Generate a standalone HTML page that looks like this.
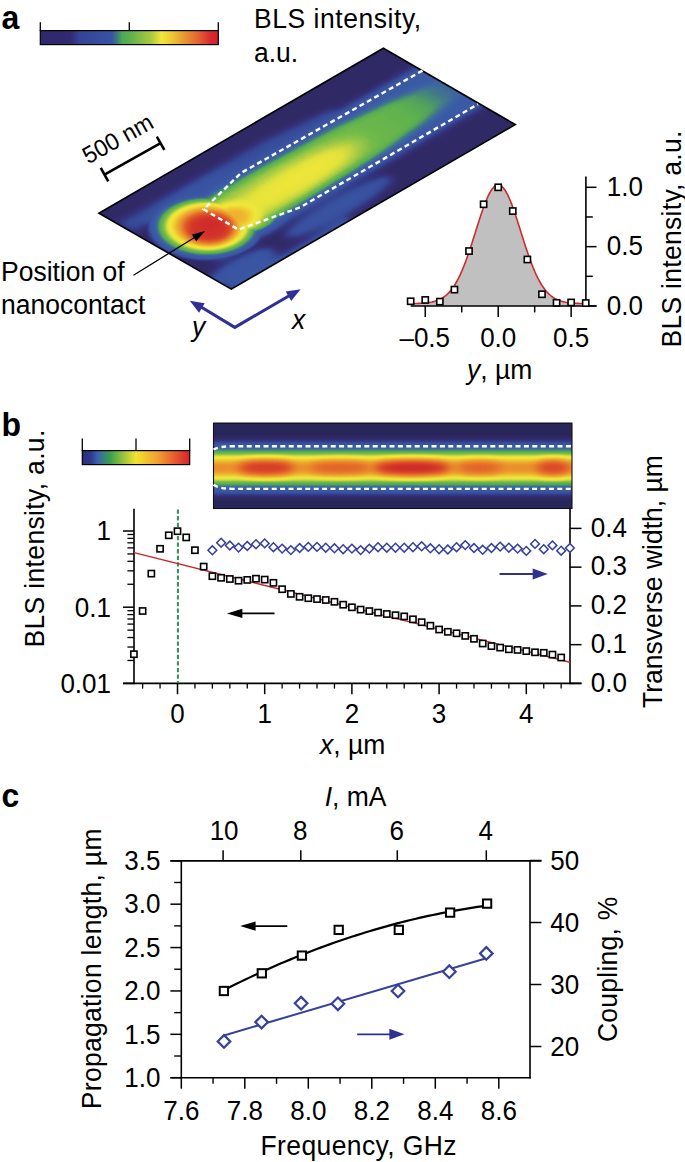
<!DOCTYPE html>
<html><head><meta charset="utf-8"><style>
html,body{margin:0;padding:0;background:#fff;overflow:hidden;}
svg{display:block;}
text{font-family:"Liberation Sans",sans-serif;fill:#000;}
</style></head><body>
<svg width="685" height="1162" viewBox="0 0 685 1162">
<defs>
<linearGradient id="cbar" x1="0" y1="0" x2="1" y2="0">
<stop offset="0" stop-color="rgb(48,40,108)"/><stop offset="0.17" stop-color="rgb(50,42,112)"/>
<stop offset="0.22" stop-color="rgb(52,68,150)"/><stop offset="0.40" stop-color="rgb(56,82,165)"/>
<stop offset="0.43" stop-color="rgb(60,120,130)"/><stop offset="0.46" stop-color="rgb(78,168,84)"/>
<stop offset="0.50" stop-color="rgb(90,175,80)"/><stop offset="0.62" stop-color="rgb(170,200,62)"/>
<stop offset="0.68" stop-color="rgb(240,230,60)"/><stop offset="0.74" stop-color="rgb(236,200,50)"/>
<stop offset="0.81" stop-color="rgb(232,150,50)"/><stop offset="0.90" stop-color="rgb(225,90,50)"/>
<stop offset="0.96" stop-color="rgb(215,40,45)"/><stop offset="1" stop-color="rgb(210,35,45)"/>
</linearGradient>
<linearGradient id="cbar2" x1="0" y1="0" x2="1" y2="0">
<stop offset="0" stop-color="#2b2c7c"/>
<stop offset="0.08" stop-color="#2d3a8a"/>
<stop offset="0.14" stop-color="#3a60b0"/>
<stop offset="0.26" stop-color="#3aa04c"/>
<stop offset="0.40" stop-color="#a8c83a"/>
<stop offset="0.50" stop-color="#f2e22e"/>
<stop offset="0.70" stop-color="#f3a030"/>
<stop offset="0.85" stop-color="#e8602e"/>
<stop offset="1" stop-color="#d8222a"/>
</linearGradient>
<filter id="bl4" x="-50%" y="-50%" width="200%" height="200%"><feGaussianBlur stdDeviation="4"/></filter>
<filter id="bl6" x="-50%" y="-50%" width="200%" height="200%"><feGaussianBlur stdDeviation="6"/></filter>
<filter id="bl8" x="-50%" y="-50%" width="200%" height="200%"><feGaussianBlur stdDeviation="8"/></filter>
<filter id="bl3" x="-50%" y="-50%" width="200%" height="200%"><feGaussianBlur stdDeviation="3"/></filter>
<filter id="bl2" x="-50%" y="-50%" width="200%" height="200%"><feGaussianBlur stdDeviation="2"/></filter>
<filter id="cmap" x="0" y="0" width="1" height="1" color-interpolation-filters="sRGB"><feComponentTransfer><feFuncR type="table" tableValues="0.1647 0.1745 0.1843 0.1941 0.2039 0.2039 0.2039 0.2039 0.2039 0.2078 0.2118 0.2176 0.2235 0.2272 0.2309 0.2346 0.2431 0.2618 0.3157 0.3608 0.4000 0.4549 0.5725 0.6886 0.7984 0.8915 0.9176 0.9438 0.9464 0.9431 0.9386 0.9320 0.9255 0.9190 0.9124 0.9000 0.8837 0.8659 0.8424 0.8196 0.8000"/><feFuncG type="table" tableValues="0.1529 0.1569 0.1608 0.1667 0.1725 0.1843 0.1961 0.2157 0.2353 0.2588 0.2824 0.3020 0.3216 0.3338 0.3461 0.3583 0.4157 0.4961 0.6235 0.6882 0.7111 0.7365 0.7718 0.8086 0.8518 0.8882 0.8980 0.9078 0.8732 0.8275 0.7752 0.7131 0.6510 0.5889 0.5268 0.4588 0.3869 0.3153 0.2447 0.1817 0.1490"/><feFuncB type="table" tableValues="0.3608 0.3784 0.3961 0.4137 0.4314 0.4549 0.4784 0.5059 0.5333 0.5608 0.5882 0.6078 0.6275 0.6373 0.6471 0.6569 0.6039 0.5206 0.3784 0.3137 0.3007 0.2878 0.2761 0.2635 0.2478 0.2346 0.2314 0.2281 0.2170 0.2039 0.1935 0.1869 0.1804 0.1771 0.1739 0.1706 0.1673 0.1647 0.1647 0.1660 0.1725"/></feComponentTransfer></filter>
<filter id="bl5" x="-50%" y="-50%" width="200%" height="200%" color-interpolation-filters="sRGB"><feGaussianBlur stdDeviation="5"/></filter>
<linearGradient id="chg" gradientUnits="userSpaceOnUse" x1="40" y1="0" x2="340" y2="0">
<stop offset="0" stop-color="#8a8a8a"/><stop offset="0.37" stop-color="#8a8a8a"/><stop offset="0.6" stop-color="#858585"/>
<stop offset="0.78" stop-color="#7d7d7d"/><stop offset="0.9" stop-color="#6e6e6e"/><stop offset="1" stop-color="#5e5e5e"/>
</linearGradient>
<linearGradient id="chy" gradientUnits="userSpaceOnUse" x1="40" y1="0" x2="250" y2="0">
<stop offset="0" stop-color="#a8a8a8"/><stop offset="0.25" stop-color="#a3a3a3"/><stop offset="0.5" stop-color="#ababab"/><stop offset="0.68" stop-color="#ababab"/><stop offset="0.82" stop-color="#9c9c9c"/>
<stop offset="1" stop-color="#808080"/>
</linearGradient>
<radialGradient id="blobg" gradientUnits="userSpaceOnUse" cx="48" cy="75" r="54" fx="52" fy="76">
<stop offset="0.000" stop-color="#fcfcfc"/><stop offset="0.185" stop-color="#f7f7f7"/><stop offset="0.352" stop-color="#e3e3e3"/><stop offset="0.481" stop-color="#c4c4c4"/><stop offset="0.574" stop-color="#a8a8a8"/><stop offset="0.630" stop-color="#919191"/><stop offset="0.704" stop-color="#787878"/><stop offset="0.759" stop-color="#666666"/><stop offset="0.833" stop-color="#575757"/><stop offset="0.926" stop-color="#0f0f0f"/><stop offset="1.000" stop-color="#0d0d0d"/>
</radialGradient>
<linearGradient id="bprof" gradientUnits="userSpaceOnUse" x1="0" y1="447.8" x2="0" y2="487.8">
<stop offset="0.000" stop-color="#5e5e5e"/><stop offset="0.050" stop-color="#6b6b6b"/><stop offset="0.125" stop-color="#7a7a7a"/><stop offset="0.175" stop-color="#8f8f8f"/><stop offset="0.250" stop-color="#a8a8a8"/><stop offset="0.300" stop-color="#bfbfbf"/><stop offset="0.400" stop-color="#d1d1d1"/><stop offset="0.500" stop-color="#d9d9d9"/><stop offset="0.600" stop-color="#d1d1d1"/><stop offset="0.700" stop-color="#bfbfbf"/><stop offset="0.750" stop-color="#a8a8a8"/><stop offset="0.825" stop-color="#8f8f8f"/><stop offset="0.875" stop-color="#7a7a7a"/><stop offset="0.950" stop-color="#6b6b6b"/><stop offset="1.000" stop-color="#5e5e5e"/>
</linearGradient>
<clipPath id="pclip"><rect x="0" y="0" width="330" height="152"/></clipPath>
<clipPath id="parclip"><polygon points="98.9,213.2 383.4,48.2 515.3,124.6 231.3,289.1"/></clipPath>
<clipPath id="bclip"><rect x="213.5" y="422.8" width="358.5" height="85.7"/></clipPath>
</defs>
<rect width="685" height="1162" fill="#fff"/>

<text transform="translate(1.50,28.60) scale(1,1.040)" font-size="32.0" text-anchor="start" font-weight="bold">a</text>
<rect x="40.3" y="30.6" width="178" height="14" fill="url(#cbar)" stroke="#000" stroke-width="1.2"/>
<line x1="40.30" y1="22.30" x2="40.30" y2="31.00" stroke="#000" stroke-width="1.30" />
<line x1="129.30" y1="22.30" x2="129.30" y2="31.00" stroke="#000" stroke-width="1.30" />
<line x1="218.30" y1="22.30" x2="218.30" y2="31.00" stroke="#000" stroke-width="1.30" />
<text transform="translate(254.00,28.40) scale(1,1.040)" font-size="26.5" text-anchor="start" letter-spacing="0.55">BLS intensity,</text>
<text transform="translate(254.00,61.90) scale(1,1.040)" font-size="26.5" text-anchor="start" >a.u.</text>
<g clip-path="url(#parclip)"><g filter="url(#cmap)">
<rect x="90" y="40" width="435" height="260" fill="#0d0d0d"/>
<g transform="matrix(0.86136,-0.49924,0.86941,0.50099,98.90,213.20)">
<g filter="url(#bl5)" style="mix-blend-mode:lighten">
<path d="M0 20 L170 22 L240 30 L240 38 L0 40 Z" fill="#454545"/>
<ellipse cx="75" cy="31" rx="45" ry="5" fill="#545454"/>
<ellipse cx="28" cy="136" rx="38" ry="13" fill="#545454"/>
<ellipse cx="145" cy="132" rx="62" ry="13" fill="#4f4f4f"/>
<path d="M0 147 L140 147 L140 160 L0 160 Z" fill="#595959"/>
</g>
<g filter="url(#bl5)" style="mix-blend-mode:lighten"><ellipse cx="84" cy="104" rx="18" ry="10" fill="#808080"/></g>
<g filter="url(#bl5)" style="mix-blend-mode:lighten"><path d="M20 34 L340 37 L340 115 L20 118 Z" fill="#5e5e5e"/></g>
<g filter="url(#bl4)" style="mix-blend-mode:lighten"><path d="M50 50 L130 49 L220 52 L290 58 L340 64 L340 90 L290 96 L220 102 L130 104 L50 105 Z" fill="url(#chg)"/></g>
<g filter="url(#bl8)" style="mix-blend-mode:lighten"><path d="M50 66 L140 65 L200 67 L240 78 L200 92 L140 95 L50 96 Z" fill="url(#chy)"/></g>
<g filter="url(#bl6)" style="mix-blend-mode:lighten"><ellipse cx="74" cy="82" rx="18" ry="17" fill="#c7c7c7"/></g>
<circle cx="48" cy="75" r="54" fill="url(#blobg)" style="mix-blend-mode:lighten"/>
</g>
<g filter="url(#bl5)" style="mix-blend-mode:lighten"><ellipse cx="209" cy="230" rx="22" ry="12" fill="#f7f7f7"/></g>
</g></g>
<path d="M98.9 213.2 L383.4 48.2 L515.3 124.6 L231.3 289.1 Z" fill="none" stroke="#000" stroke-width="1.6" stroke-linejoin="miter"/>
<path d="M422.5 70.6 L241 173 L203.6 209.3 L238.6 229.6 L300 207.4 L478 104.2" stroke="#fff" stroke-width="2.4" stroke-dasharray="5 3.4" fill="none"/>
<g transform="translate(104.5,174.7) rotate(-29.3)">
<line x1="0.00" y1="0.00" x2="64.30" y2="0.00" stroke="#000" stroke-width="2.60" />
<line x1="0.00" y1="-7.70" x2="0.00" y2="7.70" stroke="#000" stroke-width="2.60" />
<line x1="64.30" y1="-7.70" x2="64.30" y2="7.70" stroke="#000" stroke-width="2.60" />
</g>
<text transform="translate(88.30,164.60) rotate(-29.30) scale(1,1.040)" font-size="23.0" text-anchor="start" >500 nm</text>
<text transform="translate(1.00,281.00) scale(1,1.040)" font-size="26.5" text-anchor="start" >Position of</text>
<text transform="translate(1.00,313.50) scale(1,1.040)" font-size="26.5" text-anchor="start" >nanocontact</text>
<line x1="133.50" y1="275.20" x2="195.74" y2="236.78" stroke="#000" stroke-width="1.30" />
<path d="M205.10 231.00L196.14 241.23L191.94 234.43Z" fill="#000"/>
<path d="M197 304.5 L234.8 327.4 L293 293.5" fill="none" stroke="#2e3192" stroke-width="3" stroke-linejoin="miter"/>
<line x1="234.80" y1="327.40" x2="290.22" y2="295.22" stroke="#2e3192" stroke-width="0.01" />
<path d="M300.60 289.20L291.25 300.99L285.73 291.47Z" fill="#2e3192"/>
<line x1="234.80" y1="327.40" x2="200.13" y2="306.91" stroke="#2e3192" stroke-width="0.01" />
<path d="M189.80 300.80L204.65 303.19L199.05 312.66Z" fill="#2e3192"/>
<text transform="translate(292.00,329.00) scale(1,1.040)" font-size="26.5" text-anchor="start" font-style="italic">x</text>
<text transform="translate(192.00,336.00) scale(1,1.040)" font-size="26.5" text-anchor="start" font-style="italic">y</text>
<polygon points="410.66,306.00 410.66,303.56 411.39,303.55 412.12,303.54 412.85,303.53 413.58,303.52 414.31,303.50 415.04,303.49 415.77,303.47 416.50,303.45 417.23,303.43 417.95,303.41 418.68,303.38 419.41,303.35 420.14,303.32 420.87,303.28 421.60,303.24 422.33,303.20 423.06,303.15 423.79,303.10 424.52,303.04 425.25,302.97 425.98,302.90 426.71,302.82 427.44,302.74 428.17,302.64 428.90,302.54 429.63,302.43 430.36,302.31 431.09,302.17 431.82,302.03 432.54,301.87 433.27,301.70 434.00,301.51 434.73,301.31 435.46,301.10 436.19,300.86 436.92,300.61 437.65,300.33 438.38,300.04 439.11,299.72 439.84,299.38 440.57,299.01 441.30,298.62 442.03,298.20 442.76,297.75 443.49,297.27 444.22,296.75 444.95,296.21 445.68,295.63 446.41,295.01 447.13,294.35 447.86,293.66 448.59,292.92 449.32,292.14 450.05,291.32 450.78,290.45 451.51,289.54 452.24,288.57 452.97,287.56 453.70,286.50 454.43,285.39 455.16,284.22 455.89,283.00 456.62,281.73 457.35,280.41 458.08,279.03 458.81,277.59 459.54,276.10 460.27,274.56 461.00,272.95 461.73,271.30 462.45,269.59 463.18,267.83 463.91,266.02 464.64,264.15 465.37,262.24 466.10,260.28 466.83,258.27 467.56,256.22 468.29,254.13 469.02,251.99 469.75,249.83 470.48,247.63 471.21,245.40 471.94,243.15 472.67,240.87 473.40,238.58 474.13,236.27 474.86,233.95 475.59,231.63 476.31,229.31 477.04,226.99 477.77,224.69 478.50,222.39 479.23,220.12 479.96,217.88 480.69,215.66 481.42,213.49 482.15,211.35 482.88,209.26 483.61,207.23 484.34,205.25 485.07,203.34 485.80,201.50 486.53,199.73 487.26,198.04 487.99,196.43 488.72,194.92 489.45,193.49 490.18,192.17 490.90,190.94 491.63,189.82 492.36,188.81 493.09,187.91 493.82,187.13 494.55,186.46 495.28,185.91 496.01,185.48 496.74,185.17 497.47,184.99 498.20,184.93 498.93,184.99 499.66,185.17 500.39,185.48 501.12,185.91 501.85,186.46 502.58,187.13 503.31,187.91 504.04,188.81 504.77,189.82 505.50,190.94 506.22,192.17 506.95,193.49 507.68,194.92 508.41,196.43 509.14,198.04 509.87,199.73 510.60,201.50 511.33,203.34 512.06,205.25 512.79,207.23 513.52,209.26 514.25,211.35 514.98,213.49 515.71,215.66 516.44,217.88 517.17,220.12 517.90,222.39 518.63,224.69 519.36,226.99 520.09,229.31 520.81,231.63 521.54,233.95 522.27,236.27 523.00,238.58 523.73,240.87 524.46,243.15 525.19,245.40 525.92,247.63 526.65,249.83 527.38,251.99 528.11,254.13 528.84,256.22 529.57,258.27 530.30,260.28 531.03,262.24 531.76,264.15 532.49,266.02 533.22,267.83 533.95,269.59 534.67,271.30 535.40,272.95 536.13,274.56 536.86,276.10 537.59,277.59 538.32,279.03 539.05,280.41 539.78,281.73 540.51,283.00 541.24,284.22 541.97,285.39 542.70,286.50 543.43,287.56 544.16,288.57 544.89,289.54 545.62,290.45 546.35,291.32 547.08,292.14 547.81,292.92 548.54,293.66 549.26,294.35 549.99,295.01 550.72,295.63 551.45,296.21 552.18,296.75 552.91,297.27 553.64,297.75 554.37,298.20 555.10,298.62 555.83,299.01 556.56,299.38 557.29,299.72 558.02,300.04 558.75,300.33 559.48,300.61 560.21,300.86 560.94,301.10 561.67,301.31 562.40,301.51 563.13,301.70 563.86,301.87 564.58,302.03 565.31,302.17 566.04,302.31 566.77,302.43 567.50,302.54 568.23,302.64 568.96,302.74 569.69,302.82 570.42,302.90 571.15,302.97 571.88,303.04 572.61,303.10 573.34,303.15 574.07,303.20 574.80,303.24 575.53,303.28 576.26,303.32 576.99,303.35 577.72,303.38 578.45,303.41 579.17,303.43 579.90,303.45 580.63,303.47 581.36,303.49 582.09,303.50 582.82,303.52 583.55,303.53 584.28,303.54 585.01,303.55 585.74,303.56 585.74,306.00" fill="#c0c0c0"/>
<polyline points="410.66,303.56 411.39,303.55 412.12,303.54 412.85,303.53 413.58,303.52 414.31,303.50 415.04,303.49 415.77,303.47 416.50,303.45 417.23,303.43 417.95,303.41 418.68,303.38 419.41,303.35 420.14,303.32 420.87,303.28 421.60,303.24 422.33,303.20 423.06,303.15 423.79,303.10 424.52,303.04 425.25,302.97 425.98,302.90 426.71,302.82 427.44,302.74 428.17,302.64 428.90,302.54 429.63,302.43 430.36,302.31 431.09,302.17 431.82,302.03 432.54,301.87 433.27,301.70 434.00,301.51 434.73,301.31 435.46,301.10 436.19,300.86 436.92,300.61 437.65,300.33 438.38,300.04 439.11,299.72 439.84,299.38 440.57,299.01 441.30,298.62 442.03,298.20 442.76,297.75 443.49,297.27 444.22,296.75 444.95,296.21 445.68,295.63 446.41,295.01 447.13,294.35 447.86,293.66 448.59,292.92 449.32,292.14 450.05,291.32 450.78,290.45 451.51,289.54 452.24,288.57 452.97,287.56 453.70,286.50 454.43,285.39 455.16,284.22 455.89,283.00 456.62,281.73 457.35,280.41 458.08,279.03 458.81,277.59 459.54,276.10 460.27,274.56 461.00,272.95 461.73,271.30 462.45,269.59 463.18,267.83 463.91,266.02 464.64,264.15 465.37,262.24 466.10,260.28 466.83,258.27 467.56,256.22 468.29,254.13 469.02,251.99 469.75,249.83 470.48,247.63 471.21,245.40 471.94,243.15 472.67,240.87 473.40,238.58 474.13,236.27 474.86,233.95 475.59,231.63 476.31,229.31 477.04,226.99 477.77,224.69 478.50,222.39 479.23,220.12 479.96,217.88 480.69,215.66 481.42,213.49 482.15,211.35 482.88,209.26 483.61,207.23 484.34,205.25 485.07,203.34 485.80,201.50 486.53,199.73 487.26,198.04 487.99,196.43 488.72,194.92 489.45,193.49 490.18,192.17 490.90,190.94 491.63,189.82 492.36,188.81 493.09,187.91 493.82,187.13 494.55,186.46 495.28,185.91 496.01,185.48 496.74,185.17 497.47,184.99 498.20,184.93 498.93,184.99 499.66,185.17 500.39,185.48 501.12,185.91 501.85,186.46 502.58,187.13 503.31,187.91 504.04,188.81 504.77,189.82 505.50,190.94 506.22,192.17 506.95,193.49 507.68,194.92 508.41,196.43 509.14,198.04 509.87,199.73 510.60,201.50 511.33,203.34 512.06,205.25 512.79,207.23 513.52,209.26 514.25,211.35 514.98,213.49 515.71,215.66 516.44,217.88 517.17,220.12 517.90,222.39 518.63,224.69 519.36,226.99 520.09,229.31 520.81,231.63 521.54,233.95 522.27,236.27 523.00,238.58 523.73,240.87 524.46,243.15 525.19,245.40 525.92,247.63 526.65,249.83 527.38,251.99 528.11,254.13 528.84,256.22 529.57,258.27 530.30,260.28 531.03,262.24 531.76,264.15 532.49,266.02 533.22,267.83 533.95,269.59 534.67,271.30 535.40,272.95 536.13,274.56 536.86,276.10 537.59,277.59 538.32,279.03 539.05,280.41 539.78,281.73 540.51,283.00 541.24,284.22 541.97,285.39 542.70,286.50 543.43,287.56 544.16,288.57 544.89,289.54 545.62,290.45 546.35,291.32 547.08,292.14 547.81,292.92 548.54,293.66 549.26,294.35 549.99,295.01 550.72,295.63 551.45,296.21 552.18,296.75 552.91,297.27 553.64,297.75 554.37,298.20 555.10,298.62 555.83,299.01 556.56,299.38 557.29,299.72 558.02,300.04 558.75,300.33 559.48,300.61 560.21,300.86 560.94,301.10 561.67,301.31 562.40,301.51 563.13,301.70 563.86,301.87 564.58,302.03 565.31,302.17 566.04,302.31 566.77,302.43 567.50,302.54 568.23,302.64 568.96,302.74 569.69,302.82 570.42,302.90 571.15,302.97 571.88,303.04 572.61,303.10 573.34,303.15 574.07,303.20 574.80,303.24 575.53,303.28 576.26,303.32 576.99,303.35 577.72,303.38 578.45,303.41 579.17,303.43 579.90,303.45 580.63,303.47 581.36,303.49 582.09,303.50 582.82,303.52 583.55,303.53 584.28,303.54 585.01,303.55 585.74,303.56" fill="none" stroke="#d02a2a" stroke-width="1.6"/>
<line x1="410.70" y1="306.00" x2="596.50" y2="306.00" stroke="#000" stroke-width="1.60" />
<line x1="585.90" y1="176.40" x2="585.90" y2="306.80" stroke="#000" stroke-width="1.60" />
<line x1="585.90" y1="306.00" x2="596.50" y2="306.00" stroke="#000" stroke-width="1.50" />
<line x1="585.90" y1="246.65" x2="596.50" y2="246.65" stroke="#000" stroke-width="1.50" />
<line x1="585.90" y1="187.30" x2="596.50" y2="187.30" stroke="#000" stroke-width="1.50" />
<line x1="585.90" y1="276.32" x2="592.80" y2="276.32" stroke="#000" stroke-width="1.50" />
<line x1="585.90" y1="216.97" x2="592.80" y2="216.97" stroke="#000" stroke-width="1.50" />
<line x1="425.25" y1="306.00" x2="425.25" y2="317.00" stroke="#000" stroke-width="1.50" />
<line x1="498.20" y1="306.00" x2="498.20" y2="317.00" stroke="#000" stroke-width="1.50" />
<line x1="571.15" y1="306.00" x2="571.15" y2="317.00" stroke="#000" stroke-width="1.50" />
<line x1="461.72" y1="306.00" x2="461.72" y2="312.40" stroke="#000" stroke-width="1.50" />
<line x1="534.67" y1="306.00" x2="534.67" y2="312.40" stroke="#000" stroke-width="1.50" />
<rect x="407.56" y="298.15" width="6.20" height="6.20" fill="#fff" stroke="#000" stroke-width="1.60"/>
<rect x="422.15" y="296.85" width="6.20" height="6.20" fill="#fff" stroke="#000" stroke-width="1.60"/>
<rect x="436.74" y="298.51" width="6.20" height="6.20" fill="#fff" stroke="#000" stroke-width="1.60"/>
<rect x="451.33" y="286.52" width="6.20" height="6.20" fill="#fff" stroke="#000" stroke-width="1.60"/>
<rect x="465.92" y="247.94" width="6.20" height="6.20" fill="#fff" stroke="#000" stroke-width="1.60"/>
<rect x="480.51" y="201.17" width="6.20" height="6.20" fill="#fff" stroke="#000" stroke-width="1.60"/>
<rect x="495.10" y="184.20" width="6.20" height="6.20" fill="#fff" stroke="#000" stroke-width="1.60"/>
<rect x="509.69" y="207.94" width="6.20" height="6.20" fill="#fff" stroke="#000" stroke-width="1.60"/>
<rect x="524.28" y="256.37" width="6.20" height="6.20" fill="#fff" stroke="#000" stroke-width="1.60"/>
<rect x="538.87" y="291.15" width="6.20" height="6.20" fill="#fff" stroke="#000" stroke-width="1.60"/>
<rect x="553.46" y="299.70" width="6.20" height="6.20" fill="#fff" stroke="#000" stroke-width="1.60"/>
<rect x="568.05" y="299.34" width="6.20" height="6.20" fill="#fff" stroke="#000" stroke-width="1.60"/>
<rect x="582.64" y="299.93" width="6.20" height="6.20" fill="#fff" stroke="#000" stroke-width="1.60"/>
<text transform="translate(606.80,195.90) scale(1,1.040)" font-size="26.0" text-anchor="start" >1.0</text>
<text transform="translate(606.80,255.25) scale(1,1.040)" font-size="26.0" text-anchor="start" >0.5</text>
<text transform="translate(606.80,314.60) scale(1,1.040)" font-size="26.0" text-anchor="start" >0.0</text>
<text transform="translate(424.75,347.20) scale(1,1.040)" font-size="26.0" text-anchor="middle" >&#8211;0.5</text>
<text transform="translate(498.20,347.20) scale(1,1.040)" font-size="26.0" text-anchor="middle" >0.0</text>
<text transform="translate(571.15,347.20) scale(1,1.040)" font-size="26.0" text-anchor="middle" >0.5</text>
<text transform="translate(467.00,378.50) scale(1,1.040)" font-size="26.5" text-anchor="start" ><tspan font-style="italic">y</tspan>, &#181;m</text>
<text transform="translate(680.50,347.50) rotate(-90.00) scale(1,1.040)" font-size="26.5" text-anchor="start" letter-spacing="0.3">BLS intensity, a.u.</text>
<text transform="translate(1.50,436.00) scale(1,1.040)" font-size="32.0" text-anchor="start" font-weight="bold">b</text>
<rect x="82.3" y="450.6" width="107.4" height="14" fill="url(#cbar2)" stroke="#000" stroke-width="1.2"/>
<line x1="82.30" y1="438.60" x2="82.30" y2="451.00" stroke="#000" stroke-width="1.30" />
<line x1="136.00" y1="438.60" x2="136.00" y2="451.00" stroke="#000" stroke-width="1.30" />
<line x1="189.70" y1="438.60" x2="189.70" y2="451.00" stroke="#000" stroke-width="1.30" />
<g clip-path="url(#bclip)"><g filter="url(#cmap)">
<rect x="200" y="410" width="390" height="110" fill="#000000"/>
<g filter="url(#bl3)" style="mix-blend-mode:lighten"><rect x="200" y="441" width="390" height="54" fill="#5e5e5e"/></g>
<g filter="url(#bl2)" style="mix-blend-mode:lighten"><rect x="200" y="447.8" width="390" height="40" rx="9" fill="url(#bprof)"/></g>
<g filter="url(#bl5)" style="mix-blend-mode:lighten">
<ellipse cx="266" cy="467.8" rx="28" ry="7" fill="#f7f7f7"/>
<ellipse cx="340" cy="467.8" rx="30" ry="6" fill="#e8e8e8"/>
<ellipse cx="412" cy="467.8" rx="38" ry="7" fill="#ffffff"/>
<ellipse cx="480" cy="467.8" rx="22" ry="6" fill="#e8e8e8"/>
<ellipse cx="553" cy="467.8" rx="17" ry="7" fill="#f2f2f2"/>
</g>
</g></g>
<rect x="213.5" y="423.2" width="358.5" height="85.3" fill="none" stroke="#111" stroke-width="1.1"/>
<path d="M213.5 449.5 Q220 446.2 233 446.2 L572 446.2" stroke="#fff" stroke-width="2.4" stroke-dasharray="5 3.4" fill="none"/>
<path d="M213.5 484.8 Q220 488.9 233 488.9 L572 488.9" stroke="#fff" stroke-width="2.4" stroke-dasharray="5 3.4" fill="none"/>
<line x1="134.00" y1="508.80" x2="134.00" y2="684.20" stroke="#000" stroke-width="1.60" />
<line x1="570.00" y1="508.80" x2="570.00" y2="684.20" stroke="#000" stroke-width="1.60" />
<line x1="123.00" y1="683.40" x2="581.50" y2="683.40" stroke="#000" stroke-width="1.60" />
<line x1="123.00" y1="683.40" x2="134.00" y2="683.40" stroke="#000" stroke-width="1.50" />
<line x1="127.40" y1="660.46" x2="134.00" y2="660.46" stroke="#000" stroke-width="1.30" />
<line x1="127.40" y1="647.04" x2="134.00" y2="647.04" stroke="#000" stroke-width="1.30" />
<line x1="127.40" y1="637.52" x2="134.00" y2="637.52" stroke="#000" stroke-width="1.30" />
<line x1="127.40" y1="630.14" x2="134.00" y2="630.14" stroke="#000" stroke-width="1.30" />
<line x1="127.40" y1="624.10" x2="134.00" y2="624.10" stroke="#000" stroke-width="1.30" />
<line x1="127.40" y1="619.00" x2="134.00" y2="619.00" stroke="#000" stroke-width="1.30" />
<line x1="127.40" y1="614.58" x2="134.00" y2="614.58" stroke="#000" stroke-width="1.30" />
<line x1="127.40" y1="610.69" x2="134.00" y2="610.69" stroke="#000" stroke-width="1.30" />
<line x1="123.00" y1="607.20" x2="134.00" y2="607.20" stroke="#000" stroke-width="1.50" />
<line x1="127.40" y1="584.26" x2="134.00" y2="584.26" stroke="#000" stroke-width="1.30" />
<line x1="127.40" y1="570.84" x2="134.00" y2="570.84" stroke="#000" stroke-width="1.30" />
<line x1="127.40" y1="561.32" x2="134.00" y2="561.32" stroke="#000" stroke-width="1.30" />
<line x1="127.40" y1="553.94" x2="134.00" y2="553.94" stroke="#000" stroke-width="1.30" />
<line x1="127.40" y1="547.90" x2="134.00" y2="547.90" stroke="#000" stroke-width="1.30" />
<line x1="127.40" y1="542.80" x2="134.00" y2="542.80" stroke="#000" stroke-width="1.30" />
<line x1="127.40" y1="538.38" x2="134.00" y2="538.38" stroke="#000" stroke-width="1.30" />
<line x1="127.40" y1="534.49" x2="134.00" y2="534.49" stroke="#000" stroke-width="1.30" />
<line x1="123.00" y1="531.00" x2="134.00" y2="531.00" stroke="#000" stroke-width="1.50" />
<line x1="570.00" y1="683.40" x2="581.50" y2="683.40" stroke="#000" stroke-width="1.50" />
<line x1="570.00" y1="644.65" x2="581.50" y2="644.65" stroke="#000" stroke-width="1.50" />
<line x1="570.00" y1="605.90" x2="581.50" y2="605.90" stroke="#000" stroke-width="1.50" />
<line x1="570.00" y1="567.15" x2="581.50" y2="567.15" stroke="#000" stroke-width="1.50" />
<line x1="570.00" y1="528.40" x2="581.50" y2="528.40" stroke="#000" stroke-width="1.50" />
<line x1="142.62" y1="683.40" x2="142.62" y2="688.60" stroke="#000" stroke-width="1.30" />
<line x1="160.06" y1="683.40" x2="160.06" y2="688.60" stroke="#000" stroke-width="1.30" />
<line x1="177.50" y1="683.40" x2="177.50" y2="694.20" stroke="#000" stroke-width="1.50" />
<line x1="194.94" y1="683.40" x2="194.94" y2="688.60" stroke="#000" stroke-width="1.30" />
<line x1="212.38" y1="683.40" x2="212.38" y2="688.60" stroke="#000" stroke-width="1.30" />
<line x1="229.82" y1="683.40" x2="229.82" y2="688.60" stroke="#000" stroke-width="1.30" />
<line x1="247.26" y1="683.40" x2="247.26" y2="688.60" stroke="#000" stroke-width="1.30" />
<line x1="264.70" y1="683.40" x2="264.70" y2="694.20" stroke="#000" stroke-width="1.50" />
<line x1="282.14" y1="683.40" x2="282.14" y2="688.60" stroke="#000" stroke-width="1.30" />
<line x1="299.58" y1="683.40" x2="299.58" y2="688.60" stroke="#000" stroke-width="1.30" />
<line x1="317.02" y1="683.40" x2="317.02" y2="688.60" stroke="#000" stroke-width="1.30" />
<line x1="334.46" y1="683.40" x2="334.46" y2="688.60" stroke="#000" stroke-width="1.30" />
<line x1="351.90" y1="683.40" x2="351.90" y2="694.20" stroke="#000" stroke-width="1.50" />
<line x1="369.34" y1="683.40" x2="369.34" y2="688.60" stroke="#000" stroke-width="1.30" />
<line x1="386.78" y1="683.40" x2="386.78" y2="688.60" stroke="#000" stroke-width="1.30" />
<line x1="404.22" y1="683.40" x2="404.22" y2="688.60" stroke="#000" stroke-width="1.30" />
<line x1="421.66" y1="683.40" x2="421.66" y2="688.60" stroke="#000" stroke-width="1.30" />
<line x1="439.10" y1="683.40" x2="439.10" y2="694.20" stroke="#000" stroke-width="1.50" />
<line x1="456.54" y1="683.40" x2="456.54" y2="688.60" stroke="#000" stroke-width="1.30" />
<line x1="473.98" y1="683.40" x2="473.98" y2="688.60" stroke="#000" stroke-width="1.30" />
<line x1="491.42" y1="683.40" x2="491.42" y2="688.60" stroke="#000" stroke-width="1.30" />
<line x1="508.86" y1="683.40" x2="508.86" y2="688.60" stroke="#000" stroke-width="1.30" />
<line x1="526.30" y1="683.40" x2="526.30" y2="694.20" stroke="#000" stroke-width="1.50" />
<line x1="543.74" y1="683.40" x2="543.74" y2="688.60" stroke="#000" stroke-width="1.30" />
<line x1="561.18" y1="683.40" x2="561.18" y2="688.60" stroke="#000" stroke-width="1.30" />
<line x1="177.90" y1="509.50" x2="177.90" y2="682.50" stroke="#2f8f5a" stroke-width="2.00" stroke-dasharray="4.3 2.3"/>
<line x1="134.00" y1="552.60" x2="570.00" y2="662.20" stroke="#c8262c" stroke-width="1.40" />
<path d="M212.38 545.90L216.78 550.30L212.38 554.70L207.98 550.30Z" fill="#fff" stroke="#35419a" stroke-width="1.50"/>
<path d="M221.10 538.30L225.50 542.70L221.10 547.10L216.70 542.70Z" fill="#fff" stroke="#35419a" stroke-width="1.50"/>
<path d="M229.82 541.10L234.22 545.50L229.82 549.90L225.42 545.50Z" fill="#fff" stroke="#35419a" stroke-width="1.50"/>
<path d="M238.54 543.20L242.94 547.60L238.54 552.00L234.14 547.60Z" fill="#fff" stroke="#35419a" stroke-width="1.50"/>
<path d="M247.26 541.60L251.66 546.00L247.26 550.40L242.86 546.00Z" fill="#fff" stroke="#35419a" stroke-width="1.50"/>
<path d="M255.98 539.80L260.38 544.20L255.98 548.60L251.58 544.20Z" fill="#fff" stroke="#35419a" stroke-width="1.50"/>
<path d="M264.70 539.00L269.10 543.40L264.70 547.80L260.30 543.40Z" fill="#fff" stroke="#35419a" stroke-width="1.50"/>
<path d="M273.42 542.80L277.82 547.20L273.42 551.60L269.02 547.20Z" fill="#fff" stroke="#35419a" stroke-width="1.50"/>
<path d="M282.14 544.20L286.54 548.60L282.14 553.00L277.74 548.60Z" fill="#fff" stroke="#35419a" stroke-width="1.50"/>
<path d="M290.86 545.70L295.26 550.10L290.86 554.50L286.46 550.10Z" fill="#fff" stroke="#35419a" stroke-width="1.50"/>
<path d="M299.58 543.60L303.98 548.00L299.58 552.40L295.18 548.00Z" fill="#fff" stroke="#35419a" stroke-width="1.50"/>
<path d="M308.30 542.50L312.70 546.90L308.30 551.30L303.90 546.90Z" fill="#fff" stroke="#35419a" stroke-width="1.50"/>
<path d="M317.02 542.50L321.42 546.90L317.02 551.30L312.62 546.90Z" fill="#fff" stroke="#35419a" stroke-width="1.50"/>
<path d="M325.74 543.30L330.14 547.70L325.74 552.10L321.34 547.70Z" fill="#fff" stroke="#35419a" stroke-width="1.50"/>
<path d="M334.46 543.90L338.86 548.30L334.46 552.70L330.06 548.30Z" fill="#fff" stroke="#35419a" stroke-width="1.50"/>
<path d="M343.18 544.80L347.58 549.20L343.18 553.60L338.78 549.20Z" fill="#fff" stroke="#35419a" stroke-width="1.50"/>
<path d="M351.90 544.20L356.30 548.60L351.90 553.00L347.50 548.60Z" fill="#fff" stroke="#35419a" stroke-width="1.50"/>
<path d="M360.62 545.70L365.02 550.10L360.62 554.50L356.22 550.10Z" fill="#fff" stroke="#35419a" stroke-width="1.50"/>
<path d="M369.34 544.20L373.74 548.60L369.34 553.00L364.94 548.60Z" fill="#fff" stroke="#35419a" stroke-width="1.50"/>
<path d="M378.06 542.80L382.46 547.20L378.06 551.60L373.66 547.20Z" fill="#fff" stroke="#35419a" stroke-width="1.50"/>
<path d="M386.78 543.30L391.18 547.70L386.78 552.10L382.38 547.70Z" fill="#fff" stroke="#35419a" stroke-width="1.50"/>
<path d="M395.50 543.30L399.90 547.70L395.50 552.10L391.10 547.70Z" fill="#fff" stroke="#35419a" stroke-width="1.50"/>
<path d="M404.22 543.30L408.62 547.70L404.22 552.10L399.82 547.70Z" fill="#fff" stroke="#35419a" stroke-width="1.50"/>
<path d="M412.94 542.80L417.34 547.20L412.94 551.60L408.54 547.20Z" fill="#fff" stroke="#35419a" stroke-width="1.50"/>
<path d="M421.66 541.90L426.06 546.30L421.66 550.70L417.26 546.30Z" fill="#fff" stroke="#35419a" stroke-width="1.50"/>
<path d="M430.38 543.90L434.78 548.30L430.38 552.70L425.98 548.30Z" fill="#fff" stroke="#35419a" stroke-width="1.50"/>
<path d="M439.10 544.80L443.50 549.20L439.10 553.60L434.70 549.20Z" fill="#fff" stroke="#35419a" stroke-width="1.50"/>
<path d="M447.82 545.10L452.22 549.50L447.82 553.90L443.42 549.50Z" fill="#fff" stroke="#35419a" stroke-width="1.50"/>
<path d="M456.54 542.80L460.94 547.20L456.54 551.60L452.14 547.20Z" fill="#fff" stroke="#35419a" stroke-width="1.50"/>
<path d="M465.26 540.70L469.66 545.10L465.26 549.50L460.86 545.10Z" fill="#fff" stroke="#35419a" stroke-width="1.50"/>
<path d="M473.98 543.60L478.38 548.00L473.98 552.40L469.58 548.00Z" fill="#fff" stroke="#35419a" stroke-width="1.50"/>
<path d="M482.70 545.40L487.10 549.80L482.70 554.20L478.30 549.80Z" fill="#fff" stroke="#35419a" stroke-width="1.50"/>
<path d="M491.42 543.60L495.82 548.00L491.42 552.40L487.02 548.00Z" fill="#fff" stroke="#35419a" stroke-width="1.50"/>
<path d="M500.14 542.20L504.54 546.60L500.14 551.00L495.74 546.60Z" fill="#fff" stroke="#35419a" stroke-width="1.50"/>
<path d="M508.86 543.30L513.26 547.70L508.86 552.10L504.46 547.70Z" fill="#fff" stroke="#35419a" stroke-width="1.50"/>
<path d="M517.58 544.20L521.98 548.60L517.58 553.00L513.18 548.60Z" fill="#fff" stroke="#35419a" stroke-width="1.50"/>
<path d="M526.30 546.50L530.70 550.90L526.30 555.30L521.90 550.90Z" fill="#fff" stroke="#35419a" stroke-width="1.50"/>
<path d="M535.02 539.50L539.42 543.90L535.02 548.30L530.62 543.90Z" fill="#fff" stroke="#35419a" stroke-width="1.50"/>
<path d="M543.74 544.80L548.14 549.20L543.74 553.60L539.34 549.20Z" fill="#fff" stroke="#35419a" stroke-width="1.50"/>
<path d="M552.46 541.00L556.86 545.40L552.46 549.80L548.06 545.40Z" fill="#fff" stroke="#35419a" stroke-width="1.50"/>
<path d="M561.18 546.30L565.58 550.70L561.18 555.10L556.78 550.70Z" fill="#fff" stroke="#35419a" stroke-width="1.50"/>
<path d="M569.90 543.60L574.30 548.00L569.90 552.40L565.50 548.00Z" fill="#fff" stroke="#35419a" stroke-width="1.50"/>
<rect x="130.80" y="651.10" width="6.20" height="6.20" fill="#fff" stroke="#000" stroke-width="1.60"/>
<rect x="139.52" y="607.90" width="6.20" height="6.20" fill="#fff" stroke="#000" stroke-width="1.60"/>
<rect x="148.24" y="570.50" width="6.20" height="6.20" fill="#fff" stroke="#000" stroke-width="1.60"/>
<rect x="156.96" y="545.70" width="6.20" height="6.20" fill="#fff" stroke="#000" stroke-width="1.60"/>
<rect x="165.68" y="532.20" width="6.20" height="6.20" fill="#fff" stroke="#000" stroke-width="1.60"/>
<rect x="174.40" y="528.10" width="6.20" height="6.20" fill="#fff" stroke="#000" stroke-width="1.60"/>
<rect x="183.12" y="534.30" width="6.20" height="6.20" fill="#fff" stroke="#000" stroke-width="1.60"/>
<rect x="191.84" y="547.10" width="6.20" height="6.20" fill="#fff" stroke="#000" stroke-width="1.60"/>
<rect x="200.56" y="563.50" width="6.20" height="6.20" fill="#fff" stroke="#000" stroke-width="1.60"/>
<rect x="209.28" y="573.10" width="6.20" height="6.20" fill="#fff" stroke="#000" stroke-width="1.60"/>
<rect x="218.00" y="574.70" width="6.20" height="6.20" fill="#fff" stroke="#000" stroke-width="1.60"/>
<rect x="226.72" y="575.90" width="6.20" height="6.20" fill="#fff" stroke="#000" stroke-width="1.60"/>
<rect x="235.44" y="577.60" width="6.20" height="6.20" fill="#fff" stroke="#000" stroke-width="1.60"/>
<rect x="244.16" y="576.80" width="6.20" height="6.20" fill="#fff" stroke="#000" stroke-width="1.60"/>
<rect x="252.88" y="575.60" width="6.20" height="6.20" fill="#fff" stroke="#000" stroke-width="1.60"/>
<rect x="261.60" y="576.50" width="6.20" height="6.20" fill="#fff" stroke="#000" stroke-width="1.60"/>
<rect x="270.32" y="579.70" width="6.20" height="6.20" fill="#fff" stroke="#000" stroke-width="1.60"/>
<rect x="279.04" y="586.10" width="6.20" height="6.20" fill="#fff" stroke="#000" stroke-width="1.60"/>
<rect x="287.76" y="590.80" width="6.20" height="6.20" fill="#fff" stroke="#000" stroke-width="1.60"/>
<rect x="296.48" y="593.70" width="6.20" height="6.20" fill="#fff" stroke="#000" stroke-width="1.60"/>
<rect x="305.20" y="595.10" width="6.20" height="6.20" fill="#fff" stroke="#000" stroke-width="1.60"/>
<rect x="313.92" y="596.00" width="6.20" height="6.20" fill="#fff" stroke="#000" stroke-width="1.60"/>
<rect x="322.64" y="596.90" width="6.20" height="6.20" fill="#fff" stroke="#000" stroke-width="1.60"/>
<rect x="331.36" y="598.70" width="6.20" height="6.20" fill="#fff" stroke="#000" stroke-width="1.60"/>
<rect x="340.08" y="601.60" width="6.20" height="6.20" fill="#fff" stroke="#000" stroke-width="1.60"/>
<rect x="348.80" y="604.20" width="6.20" height="6.20" fill="#fff" stroke="#000" stroke-width="1.60"/>
<rect x="357.52" y="606.50" width="6.20" height="6.20" fill="#fff" stroke="#000" stroke-width="1.60"/>
<rect x="366.24" y="608.00" width="6.20" height="6.20" fill="#fff" stroke="#000" stroke-width="1.60"/>
<rect x="374.96" y="609.50" width="6.20" height="6.20" fill="#fff" stroke="#000" stroke-width="1.60"/>
<rect x="383.68" y="610.90" width="6.20" height="6.20" fill="#fff" stroke="#000" stroke-width="1.60"/>
<rect x="392.40" y="612.10" width="6.20" height="6.20" fill="#fff" stroke="#000" stroke-width="1.60"/>
<rect x="401.12" y="613.30" width="6.20" height="6.20" fill="#fff" stroke="#000" stroke-width="1.60"/>
<rect x="409.84" y="616.20" width="6.20" height="6.20" fill="#fff" stroke="#000" stroke-width="1.60"/>
<rect x="418.56" y="619.10" width="6.20" height="6.20" fill="#fff" stroke="#000" stroke-width="1.60"/>
<rect x="427.28" y="622.60" width="6.20" height="6.20" fill="#fff" stroke="#000" stroke-width="1.60"/>
<rect x="436.00" y="626.40" width="6.20" height="6.20" fill="#fff" stroke="#000" stroke-width="1.60"/>
<rect x="444.72" y="628.70" width="6.20" height="6.20" fill="#fff" stroke="#000" stroke-width="1.60"/>
<rect x="453.44" y="630.20" width="6.20" height="6.20" fill="#fff" stroke="#000" stroke-width="1.60"/>
<rect x="462.16" y="632.80" width="6.20" height="6.20" fill="#fff" stroke="#000" stroke-width="1.60"/>
<rect x="470.88" y="635.70" width="6.20" height="6.20" fill="#fff" stroke="#000" stroke-width="1.60"/>
<rect x="479.60" y="640.40" width="6.20" height="6.20" fill="#fff" stroke="#000" stroke-width="1.60"/>
<rect x="488.32" y="643.00" width="6.20" height="6.20" fill="#fff" stroke="#000" stroke-width="1.60"/>
<rect x="497.04" y="644.50" width="6.20" height="6.20" fill="#fff" stroke="#000" stroke-width="1.60"/>
<rect x="505.76" y="646.20" width="6.20" height="6.20" fill="#fff" stroke="#000" stroke-width="1.60"/>
<rect x="514.48" y="646.80" width="6.20" height="6.20" fill="#fff" stroke="#000" stroke-width="1.60"/>
<rect x="523.20" y="648.00" width="6.20" height="6.20" fill="#fff" stroke="#000" stroke-width="1.60"/>
<rect x="531.92" y="649.20" width="6.20" height="6.20" fill="#fff" stroke="#000" stroke-width="1.60"/>
<rect x="540.64" y="649.70" width="6.20" height="6.20" fill="#fff" stroke="#000" stroke-width="1.60"/>
<rect x="549.36" y="651.50" width="6.20" height="6.20" fill="#fff" stroke="#000" stroke-width="1.60"/>
<rect x="558.08" y="654.40" width="6.20" height="6.20" fill="#fff" stroke="#000" stroke-width="1.60"/>
<line x1="274.50" y1="613.40" x2="240.40" y2="613.40" stroke="#000" stroke-width="1.80" />
<path d="M226.90 613.40L242.40 608.70L242.40 618.10Z" fill="#000"/>
<line x1="499.50" y1="574.00" x2="534.70" y2="574.00" stroke="#2e3192" stroke-width="1.80" />
<path d="M547.70 574.00L532.70 579.45L532.70 568.55Z" fill="#2e3192"/>
<text transform="translate(111.00,540.30) scale(1,1.040)" font-size="26.0" text-anchor="end" >1</text>
<text transform="translate(111.00,616.50) scale(1,1.040)" font-size="26.0" text-anchor="end" >0.1</text>
<text transform="translate(111.00,692.70) scale(1,1.040)" font-size="26.0" text-anchor="end" >0.01</text>
<text transform="translate(590.70,691.60) scale(1,1.040)" font-size="26.0" text-anchor="start" >0.0</text>
<text transform="translate(590.70,652.85) scale(1,1.040)" font-size="26.0" text-anchor="start" >0.1</text>
<text transform="translate(590.70,614.10) scale(1,1.040)" font-size="26.0" text-anchor="start" >0.2</text>
<text transform="translate(590.70,575.35) scale(1,1.040)" font-size="26.0" text-anchor="start" >0.3</text>
<text transform="translate(590.70,536.60) scale(1,1.040)" font-size="26.0" text-anchor="start" >0.4</text>
<text transform="translate(177.50,723.30) scale(1,1.040)" font-size="26.0" text-anchor="middle" >0</text>
<text transform="translate(264.70,723.30) scale(1,1.040)" font-size="26.0" text-anchor="middle" >1</text>
<text transform="translate(351.90,723.30) scale(1,1.040)" font-size="26.0" text-anchor="middle" >2</text>
<text transform="translate(439.10,723.30) scale(1,1.040)" font-size="26.0" text-anchor="middle" >3</text>
<text transform="translate(526.30,723.30) scale(1,1.040)" font-size="26.0" text-anchor="middle" >4</text>
<text transform="translate(320.00,754.00) scale(1,1.040)" font-size="26.5" text-anchor="start" ><tspan font-style="italic">x</tspan>, &#181;m</text>
<text transform="translate(44.30,647.50) rotate(-90.00) scale(1,1.040)" font-size="26.5" text-anchor="start" letter-spacing="0.35">BLS intensity, a.u.</text>
<text transform="translate(662.30,707.90) rotate(-90.00) scale(1,1.040)" font-size="26.5" text-anchor="start" >Transverse width, &#181;m</text>
<text transform="translate(1.50,807.40) scale(1,1.040)" font-size="32.0" text-anchor="start" font-weight="bold">c</text>
<line x1="181.30" y1="860.90" x2="181.30" y2="1078.50" stroke="#000" stroke-width="1.60" />
<line x1="530.00" y1="860.10" x2="530.00" y2="1078.50" stroke="#000" stroke-width="1.60" />
<line x1="170.40" y1="860.90" x2="541.40" y2="860.90" stroke="#000" stroke-width="1.60" />
<line x1="170.40" y1="1077.70" x2="530.80" y2="1077.70" stroke="#000" stroke-width="1.60" />
<line x1="170.40" y1="1077.70" x2="181.30" y2="1077.70" stroke="#000" stroke-width="1.50" />
<text transform="translate(160.50,1087.00) scale(1,1.040)" font-size="26.0" text-anchor="end" >1.0</text>
<line x1="170.40" y1="1034.32" x2="181.30" y2="1034.32" stroke="#000" stroke-width="1.50" />
<text transform="translate(160.50,1043.62) scale(1,1.040)" font-size="26.0" text-anchor="end" >1.5</text>
<line x1="170.40" y1="990.94" x2="181.30" y2="990.94" stroke="#000" stroke-width="1.50" />
<text transform="translate(160.50,1000.24) scale(1,1.040)" font-size="26.0" text-anchor="end" >2.0</text>
<line x1="170.40" y1="947.56" x2="181.30" y2="947.56" stroke="#000" stroke-width="1.50" />
<text transform="translate(160.50,956.86) scale(1,1.040)" font-size="26.0" text-anchor="end" >2.5</text>
<line x1="170.40" y1="904.18" x2="181.30" y2="904.18" stroke="#000" stroke-width="1.50" />
<text transform="translate(160.50,913.48) scale(1,1.040)" font-size="26.0" text-anchor="end" >3.0</text>
<line x1="170.40" y1="860.80" x2="181.30" y2="860.80" stroke="#000" stroke-width="1.50" />
<text transform="translate(160.50,870.10) scale(1,1.040)" font-size="26.0" text-anchor="end" >3.5</text>
<line x1="174.20" y1="1056.01" x2="181.30" y2="1056.01" stroke="#000" stroke-width="1.40" />
<line x1="174.20" y1="1012.63" x2="181.30" y2="1012.63" stroke="#000" stroke-width="1.40" />
<line x1="174.20" y1="969.25" x2="181.30" y2="969.25" stroke="#000" stroke-width="1.40" />
<line x1="174.20" y1="925.87" x2="181.30" y2="925.87" stroke="#000" stroke-width="1.40" />
<line x1="174.20" y1="882.49" x2="181.30" y2="882.49" stroke="#000" stroke-width="1.40" />
<line x1="530.00" y1="1046.50" x2="541.40" y2="1046.50" stroke="#000" stroke-width="1.50" />
<text transform="translate(550.20,1055.80) scale(1,1.040)" font-size="26.0" text-anchor="start" >20</text>
<line x1="530.00" y1="984.50" x2="541.40" y2="984.50" stroke="#000" stroke-width="1.50" />
<text transform="translate(550.20,993.80) scale(1,1.040)" font-size="26.0" text-anchor="start" >30</text>
<line x1="530.00" y1="922.50" x2="541.40" y2="922.50" stroke="#000" stroke-width="1.50" />
<text transform="translate(550.20,931.80) scale(1,1.040)" font-size="26.0" text-anchor="start" >40</text>
<line x1="530.00" y1="860.50" x2="541.40" y2="860.50" stroke="#000" stroke-width="1.50" />
<text transform="translate(550.20,869.80) scale(1,1.040)" font-size="26.0" text-anchor="start" >50</text>
<line x1="181.30" y1="1077.70" x2="181.30" y2="1088.70" stroke="#000" stroke-width="1.50" />
<text transform="translate(181.30,1119.80) scale(1,1.040)" font-size="26.0" text-anchor="middle" >7.6</text>
<line x1="213.05" y1="1077.70" x2="213.05" y2="1083.80" stroke="#000" stroke-width="1.40" />
<line x1="244.80" y1="1077.70" x2="244.80" y2="1088.70" stroke="#000" stroke-width="1.50" />
<text transform="translate(244.80,1119.80) scale(1,1.040)" font-size="26.0" text-anchor="middle" >7.8</text>
<line x1="276.55" y1="1077.70" x2="276.55" y2="1083.80" stroke="#000" stroke-width="1.40" />
<line x1="308.30" y1="1077.70" x2="308.30" y2="1088.70" stroke="#000" stroke-width="1.50" />
<text transform="translate(308.30,1119.80) scale(1,1.040)" font-size="26.0" text-anchor="middle" >8.0</text>
<line x1="340.05" y1="1077.70" x2="340.05" y2="1083.80" stroke="#000" stroke-width="1.40" />
<line x1="371.80" y1="1077.70" x2="371.80" y2="1088.70" stroke="#000" stroke-width="1.50" />
<text transform="translate(371.80,1119.80) scale(1,1.040)" font-size="26.0" text-anchor="middle" >8.2</text>
<line x1="403.55" y1="1077.70" x2="403.55" y2="1083.80" stroke="#000" stroke-width="1.40" />
<line x1="435.30" y1="1077.70" x2="435.30" y2="1088.70" stroke="#000" stroke-width="1.50" />
<text transform="translate(435.30,1119.80) scale(1,1.040)" font-size="26.0" text-anchor="middle" >8.4</text>
<line x1="467.05" y1="1077.70" x2="467.05" y2="1083.80" stroke="#000" stroke-width="1.40" />
<line x1="498.80" y1="1077.70" x2="498.80" y2="1088.70" stroke="#000" stroke-width="1.50" />
<text transform="translate(498.80,1119.80) scale(1,1.040)" font-size="26.0" text-anchor="middle" >8.6</text>
<line x1="223.10" y1="850.30" x2="223.10" y2="860.90" stroke="#000" stroke-width="1.50" />
<text transform="translate(224.10,840.00) scale(1,1.040)" font-size="26.0" text-anchor="middle" >10</text>
<line x1="300.80" y1="850.30" x2="300.80" y2="860.90" stroke="#000" stroke-width="1.50" />
<text transform="translate(300.30,840.00) scale(1,1.040)" font-size="26.0" text-anchor="middle" >8</text>
<line x1="397.30" y1="850.30" x2="397.30" y2="860.90" stroke="#000" stroke-width="1.50" />
<text transform="translate(396.80,840.00) scale(1,1.040)" font-size="26.0" text-anchor="middle" >6</text>
<line x1="486.30" y1="850.30" x2="486.30" y2="860.90" stroke="#000" stroke-width="1.50" />
<text transform="translate(485.80,840.00) scale(1,1.040)" font-size="26.0" text-anchor="middle" >4</text>
<text transform="translate(324.70,806.10) scale(1,1.040)" font-size="26.5" text-anchor="start" ><tspan font-style="italic">I</tspan>, mA</text>
<text transform="translate(260.50,1155.40) scale(1,1.040)" font-size="26.5" text-anchor="start" letter-spacing="0.4">Frequency, GHz</text>
<text transform="translate(100.60,1109.20) rotate(-90.00) scale(1,1.040)" font-size="26.5" text-anchor="start" letter-spacing="0.3">Propagation length, &#181;m</text>
<text transform="translate(617.20,1042.00) rotate(-90.00) scale(1,1.040)" font-size="26.5" text-anchor="start" letter-spacing="0.25">Coupling, %</text>
<polyline points="223.10,990.47 227.56,988.21 232.02,985.99 236.48,983.79 240.94,981.62 245.41,979.48 249.87,977.37 254.33,975.28 258.79,973.22 263.25,971.19 267.71,969.19 272.17,967.22 276.63,965.28 281.09,963.36 285.55,961.47 290.02,959.61 294.48,957.78 298.94,955.98 303.40,954.20 307.86,952.46 312.32,950.74 316.78,949.05 321.24,947.38 325.70,945.75 330.16,944.14 334.63,942.57 339.09,941.02 343.55,939.49 348.01,938.00 352.47,936.54 356.93,935.10 361.39,933.69 365.85,932.31 370.31,930.96 374.77,929.63 379.24,928.33 383.70,927.07 388.16,925.83 392.62,924.61 397.08,923.43 401.54,922.28 406.00,921.15 410.46,920.05 414.92,918.98 419.38,917.94 423.85,916.92 428.31,915.93 432.77,914.98 437.23,914.05 441.69,913.14 446.15,912.27 450.61,911.43 455.07,910.61 459.53,909.82 463.99,909.06 468.46,908.32 472.92,907.62 477.38,906.94 481.84,906.29 486.30,905.67" fill="none" stroke="#000" stroke-width="2.2"/>
<line x1="224.00" y1="1035.50" x2="486.30" y2="958.20" stroke="#35419a" stroke-width="2.00" />
<rect x="219.75" y="986.85" width="8.30" height="8.30" fill="#fff" stroke="#000" stroke-width="2.00"/>
<rect x="257.65" y="969.15" width="8.30" height="8.30" fill="#fff" stroke="#000" stroke-width="2.00"/>
<rect x="297.75" y="951.45" width="8.30" height="8.30" fill="#fff" stroke="#000" stroke-width="2.00"/>
<rect x="334.55" y="925.75" width="8.30" height="8.30" fill="#fff" stroke="#000" stroke-width="2.00"/>
<rect x="394.65" y="925.75" width="8.30" height="8.30" fill="#fff" stroke="#000" stroke-width="2.00"/>
<rect x="445.95" y="908.45" width="8.30" height="8.30" fill="#fff" stroke="#000" stroke-width="2.00"/>
<rect x="482.95" y="899.45" width="8.30" height="8.30" fill="#fff" stroke="#000" stroke-width="2.00"/>
<path d="M224.00 1035.10L230.30 1041.40L224.00 1047.70L217.70 1041.40Z" fill="#fff" stroke="#35419a" stroke-width="2.20"/>
<path d="M261.60 1015.80L267.90 1022.10L261.60 1028.40L255.30 1022.10Z" fill="#fff" stroke="#35419a" stroke-width="2.20"/>
<path d="M301.10 996.90L307.40 1003.20L301.10 1009.50L294.80 1003.20Z" fill="#fff" stroke="#35419a" stroke-width="2.20"/>
<path d="M337.90 997.50L344.20 1003.80L337.90 1010.10L331.60 1003.80Z" fill="#fff" stroke="#35419a" stroke-width="2.20"/>
<path d="M398.00 984.70L404.30 991.00L398.00 997.30L391.70 991.00Z" fill="#fff" stroke="#35419a" stroke-width="2.20"/>
<path d="M449.30 965.40L455.60 971.70L449.30 978.00L443.00 971.70Z" fill="#fff" stroke="#35419a" stroke-width="2.20"/>
<path d="M486.30 947.10L492.60 953.40L486.30 959.70L480.00 953.40Z" fill="#fff" stroke="#35419a" stroke-width="2.20"/>
<line x1="287.30" y1="926.10" x2="253.60" y2="926.10" stroke="#000" stroke-width="1.80" />
<path d="M240.10 926.10L255.60 921.40L255.60 930.80Z" fill="#000"/>
<line x1="357.20" y1="1034.30" x2="391.40" y2="1034.30" stroke="#2e3192" stroke-width="1.80" />
<path d="M404.40 1034.30L389.40 1039.75L389.40 1028.85Z" fill="#2e3192"/>
</svg></body></html>
